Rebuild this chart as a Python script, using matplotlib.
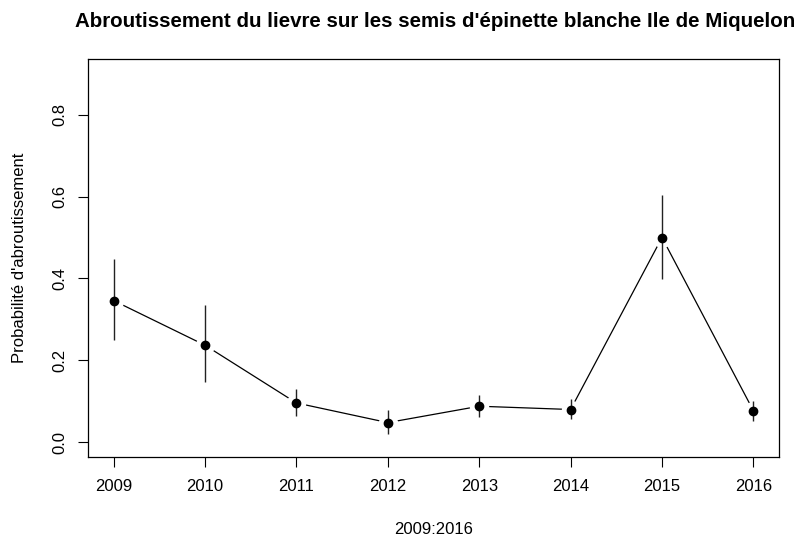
import numpy as np
import matplotlib
matplotlib.use("Agg")
import matplotlib.pyplot as plt

plt.rcParams['font.family'] = ['Liberation Sans', 'DejaVu Sans']

# data
years = [2009, 2010, 2011, 2012, 2013, 2014, 2015, 2016]
prob  = [0.346, 0.237, 0.096, 0.048, 0.088, 0.080, 0.500, 0.077]
upper = [0.447, 0.334, 0.130, 0.079, 0.115, 0.105, 0.604, 0.100]
lower = [0.250, 0.146, 0.063, 0.021, 0.061, 0.057, 0.398, 0.052]
yticks = [0.0, 0.2, 0.4, 0.6, 0.8]

fig = plt.figure(figsize=(7.98, 5.38), dpi=100)
ax = fig.add_axes([88/798, 1 - 457/538, (779 - 88)/798, (457 - 59)/538])

# type="b": line with gaps around the points
ax.plot(years, prob, color='black', lw=0.9, zorder=1)
ax.plot(years, prob, 'o', color='white', ms=14, mec='none', zorder=2)
ax.vlines(years, lower, upper, color='#222222', lw=1.0, zorder=3)
ax.plot(years, prob, 'o', color='black', ms=6, zorder=4)

ax.set_xlim(2009 - 0.28, 2016 + 0.28)
ax.set_ylim(0 - 0.036, 0.9 + 0.036)
ax.set_xticks(years)
ax.set_xticklabels([str(y) for y in years])
ax.set_yticks(yticks)
ax.set_yticklabels(['%.1f' % v for v in yticks], rotation=90, va='center')

ax.tick_params(axis='both', direction='out', length=7, width=0.8, labelsize=12)
ax.tick_params(axis='x', pad=9)
ax.tick_params(axis='y', pad=8)
for s in ax.spines.values():
    s.set_linewidth(0.9)

ax.set_title("Abroutissement du lievre sur les semis d'épinette blanche Ile de Miquelon",
             fontsize=14.8, fontweight='bold', pad=23, x=0.503)
ax.set_xlabel('2009:2016', fontsize=12, labelpad=20)
ax.set_ylabel("Probabilité d'abroutissement", fontsize=12, labelpad=18)

fig.savefig('out.png', dpi=100)
